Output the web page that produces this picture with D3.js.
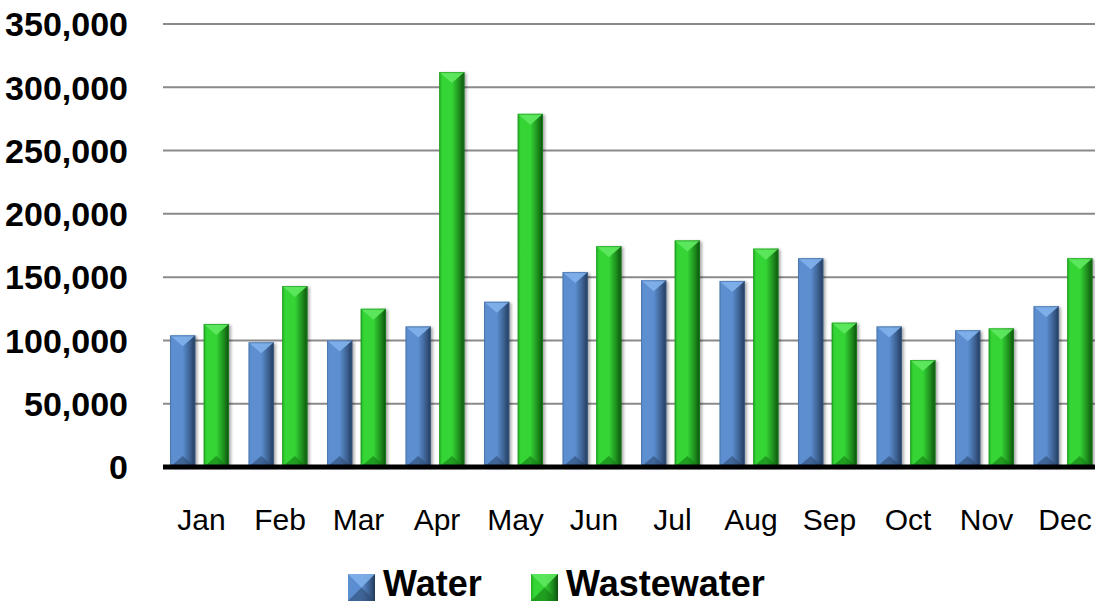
<!DOCTYPE html>
<html><head><meta charset="utf-8">
<script src="https://cdn.jsdelivr.net/npm/d3@7"></script>
<style>html,body{margin:0;padding:0;background:#fff;}svg{display:block;}</style>
</head><body>
<svg id="chart" width="1095" height="604"></svg>
<script>
const months = ["Jan","Feb","Mar","Apr","May","Jun","Jul","Aug","Sep","Oct","Nov","Dec"];
const seriesNames = ["Water","Wastewater"];
const water = [104000, 98500, 100000, 111000, 130500, 154000, 147500, 147000, 165000, 111000, 108000, 127000];
const wastewater = [113000, 143000, 125000, 312000, 279000, 174500, 179000, 172500, 114000, 84500, 109500, 165000];
const yTicks = [0, 50000, 100000, 150000, 200000, 250000, 300000, 350000];

const svg = d3.select("#chart");
const W = 1095, H = 604;
const x0 = d3.scaleBand().domain(months).range([160.25, 1102.25]).paddingInner(0.25).paddingOuter(0.125);
const x1 = d3.scaleBand().domain(seriesNames).range([0, x0.bandwidth()]).paddingInner(0.25).paddingOuter(0);
const y = d3.scaleLinear().domain([0, 350000]).range([467, 24]);

const palettes = {
  Water: {left:"#5d8fcc", mid:"#5b8ed0", right:"#22395a", top:"#7fb0ea", bottom:"#2d4a72", edge:"#3c6497"},
  Wastewater: {left:"#22b022", mid:"#35d535", right:"#0b500b", top:"#5ee85e", bottom:"#137a13", edge:"#1c8f1c"}
};

const defs = svg.append("defs");
seriesNames.forEach((s,i)=>{
  const p = palettes[s];
  const g = defs.append("linearGradient").attr("id","grad"+i).attr("x1","0").attr("x2","1").attr("y1","0").attr("y2","0");
  g.append("stop").attr("offset","0").attr("stop-color",p.left);
  g.append("stop").attr("offset","0.12").attr("stop-color",p.mid);
  g.append("stop").attr("offset","0.5").attr("stop-color",p.mid);
  g.append("stop").attr("offset","0.8").attr("stop-color",d3.interpolateRgb(p.mid,p.right)(0.55));
  g.append("stop").attr("offset","1").attr("stop-color",p.right);
});
const f = defs.append("filter").attr("id","shadow").attr("x","-20%").attr("y","-5%").attr("width","150%").attr("height","115%");
f.append("feDropShadow").attr("dx",2).attr("dy",1).attr("stdDeviation",1.5).attr("flood-color","#000").attr("flood-opacity",0.35);

// gridlines
svg.append("g").selectAll("line").data(yTicks.filter(t=>t>0)).join("line")
  .attr("x1",163).attr("x2",W).attr("y1",d=>y(d)).attr("y2",d=>y(d))
  .attr("stroke","#8a8a8a").attr("stroke-width",2);

// y labels
svg.append("g").selectAll("text").data(yTicks).join("text")
  .attr("x",128).attr("y",d=>y(d)).attr("dy","0.36em")
  .attr("text-anchor","end")
  .style("font-family","'Liberation Sans', Arial, sans-serif").style("font-weight","bold").style("font-size","34px")
  .attr("fill","#000")
  .text(d=>d3.format(",")(d));

// bars
const data = months.map((m,i)=>({month:m, values:[{s:"Water",v:water[i],k:0},{s:"Wastewater",v:wastewater[i],k:1}]}));
const groups = svg.append("g").selectAll("g").data(data).join("g")
  .attr("transform",d=>`translate(${x0(d.month)},0)`);
groups.selectAll("g.bar").data(d=>d.values).join("g").attr("class","bar").each(function(d){
  const g = d3.select(this);
  const bx = x1(d.s), bw = x1.bandwidth(), top = y(d.v), base = y(0);
  const p = palettes[d.s];
  const bev = Math.min(11, (base-top)/2);
  g.append("rect").attr("x",bx).attr("y",top).attr("width",bw).attr("height",base-top)
    .attr("fill",`url(#grad${d.k})`).attr("filter","url(#shadow)");
  g.append("path").attr("d",`M${bx},${top}L${bx+bw},${top}L${bx+bw*0.5},${top+bev}Z`)
    .attr("fill",p.top).attr("opacity",0.95);
  g.append("path").attr("d",`M${bx},${base}L${bx+bw},${base}L${bx+bw*0.5},${base-bev}Z`)
    .attr("fill",p.bottom).attr("opacity",0.6);
  g.append("rect").attr("x",bx+0.5).attr("y",top+0.5).attr("width",bw-1).attr("height",base-top-1)
    .attr("fill","none").attr("stroke",p.edge).attr("stroke-width",1).attr("opacity",0.6);
});

// baseline
svg.append("line").attr("x1",163).attr("x2",W).attr("y1",y(0)).attr("y2",y(0))
  .attr("stroke","#000").attr("stroke-width",5);

// month labels
svg.append("g").selectAll("text").data(months).join("text")
  .attr("x",d=>x0(d)+x0.bandwidth()/2+2).attr("y",530)
  .attr("text-anchor","middle")
  .style("font-family","'Liberation Sans', Arial, sans-serif").style("font-size","30px")
  .attr("fill","#000")
  .text(d=>d);

// legend
const legend = svg.append("g");
const legendX = [348, 531];
seriesNames.forEach((s,i)=>{
  const p = palettes[s];
  const lx = legendX[i], ly = 574, sz = 27;
  legend.append("rect").attr("x",lx).attr("y",ly).attr("width",sz).attr("height",sz).attr("fill",`url(#grad${i})`);
  legend.append("path").attr("d",`M${lx},${ly}L${lx+sz},${ly}L${lx+sz/2},${ly+sz/2}Z`).attr("fill",p.top).attr("opacity",0.9);
  legend.append("path").attr("d",`M${lx},${ly+sz}L${lx+sz},${ly+sz}L${lx+sz/2},${ly+sz/2}Z`).attr("fill",p.bottom).attr("opacity",0.6);
  legend.append("text").attr("x",lx+sz+8).attr("y",596)
    .style("font-family","'Liberation Sans', Arial, sans-serif").style("font-weight","bold").style("font-size","36px")
    .attr("fill","#000").text(s);
});
</script>
</body></html>
